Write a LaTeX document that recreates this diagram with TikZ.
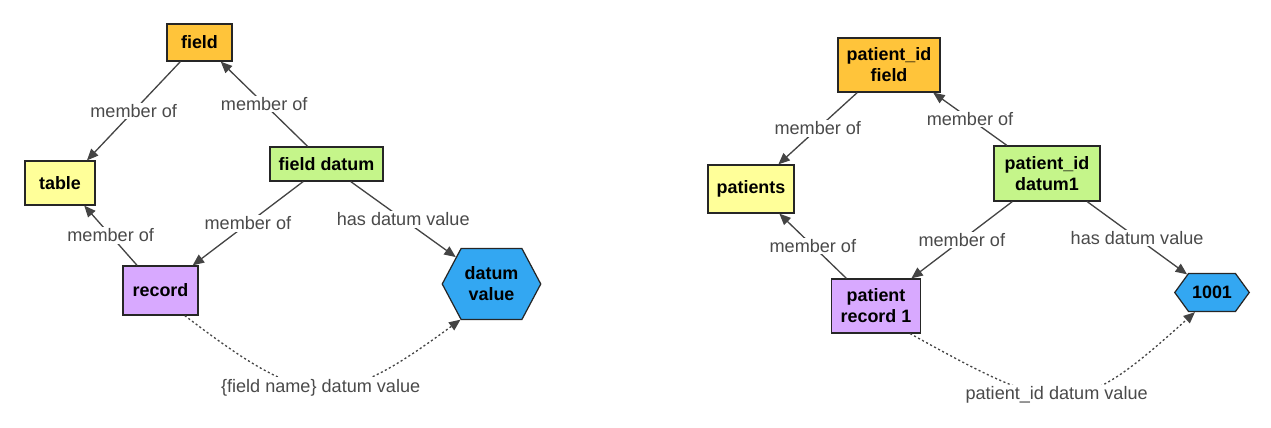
\documentclass[tikz,border=0pt]{standalone}
\usepackage{fontspec}
\setmainfont{Liberation Sans}
\usetikzlibrary{arrows.meta, shapes.symbols}

\definecolor{fieldorange}{HTML}{FFC43A}
\definecolor{tableyellow}{HTML}{FFFF99}
\definecolor{datumgreen}{HTML}{C5F58A}
\definecolor{recordpurple}{HTML}{D8A9FF}
\definecolor{valueblue}{HTML}{33A7F2}
\definecolor{linkgray}{HTML}{444444}
\definecolor{textgray}{HTML}{4A4A4A}

\begin{document}
\begin{tikzpicture}[
    x=0.02cm, y=-0.02cm,
    >={Triangle[length=6.5pt, width=5.5pt]},
    box/.style={draw=black!85, line width=0.7pt, align=center, inner sep=2pt,
                font=\fontsize{10.2}{12}\selectfont\bfseries},
    hexbox/.style={box, signal, signal to=east and west},
    rel/.style={->, draw=linkgray, line width=0.75pt},
    reltext/.style={fill=white, text=textgray, inner sep=1pt,
                    font=\fontsize{10.3}{12}\selectfont}
  ]
  \useasboundingbox (0,0) rectangle (1271,428);

  % generic model
  \node[box, fill=fieldorange, minimum width=1.3cm, minimum height=0.74cm] (field) at (199.5,42.5) {field};
  \node[box, fill=tableyellow, minimum width=1.4cm, minimum height=0.88cm] (table) at (60,183) {table};
  \node[box, fill=datumgreen, minimum width=2.26cm, minimum height=0.68cm] (datum) at (326.5,164) {field datum};
  \node[box, fill=recordpurple, minimum width=1.5cm, minimum height=0.98cm] (record) at (160.5,290.5) {record};
  \node[hexbox, fill=valueblue, signal pointer angle=124, minimum width=1.86cm, minimum height=1.42cm] (value) at (491.5,284) {datum\\value};

  \draw[rel] (field.225) -- node[reltext] {member of} (table.40);
  \draw[rel] (datum.137) -- node[reltext] {member of} (field.318);
  \draw[rel] (record.133) -- node[reltext] {member of} (table.317);
  \draw[rel] (datum.217) -- node[reltext] {member of} (record.38);
  \draw[rel] (datum.324) -- node[reltext] {has datum value} (value.143);
  \draw[rel, dash pattern=on 1.2pt off 1.4pt] (record.314) .. controls (310,411) and (336,411) .. node[reltext, pos=0.49] {\{field name\} datum value} (value.229);

  % example instance
  \node[box, fill=fieldorange, minimum width=2.04cm, minimum height=1.08cm] (pfield) at (889,65) {patient\_id\\field};
  \node[box, fill=tableyellow, minimum width=1.72cm, minimum height=0.96cm] (patients) at (751,189) {patients};
  \node[box, fill=datumgreen, minimum width=2.12cm, minimum height=1.1cm] (pdatum) at (1047,173.5) {patient\_id\\datum1};
  \node[box, fill=recordpurple, minimum width=1.78cm, minimum height=1.08cm] (precord) at (876,306) {patient\\record 1};
  \node[hexbox, fill=valueblue, signal pointer angle=108, minimum width=1.4cm, minimum height=0.76cm] (pvalue) at (1212,292.5) {1001};

  \draw[rel] (pfield.221) -- node[reltext] {member of} (patients.42);
  \draw[rel] (pdatum.145) -- node[reltext] {member of} (pfield.328);
  \draw[rel] (precord.137) -- node[reltext] {member of} (patients.319);
  \draw[rel] (pdatum.219) -- node[reltext] {member of} (precord.38);
  \draw[rel] (pdatum.325) -- node[reltext] {has datum value} (pvalue.144);
  \draw[rel, dash pattern=on 1.2pt off 1.4pt] (precord.321) .. controls (1064,419) and (1076,419) .. node[reltext, pos=0.46] {patient\_id datum value} (pvalue.229);
\end{tikzpicture}
\end{document}
